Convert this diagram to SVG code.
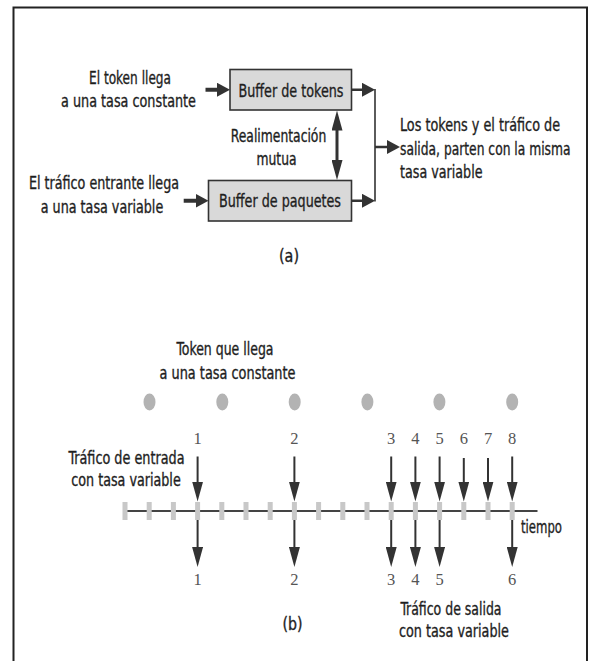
<svg xmlns="http://www.w3.org/2000/svg" width="589" height="661" viewBox="0 0 589 661">
<style>
.t{font-family:"Liberation Sans Narrow","DejaVu Sans Condensed","Arial Narrow",sans-serif;font-size:18px;fill:#1e1e1e;stroke:#1e1e1e;stroke-width:0.35;}
.m{text-anchor:middle;}
.n{font-family:"Liberation Serif","Times New Roman",serif;font-size:16.5px;fill:#555;text-anchor:middle;}
.box{fill:#d9d9d9;stroke:#333;stroke-width:1.6;}
.thick{stroke:#333;stroke-width:4;fill:none;}
.mid{stroke:#333;stroke-width:2.5;fill:none;}
.thin{stroke:#333;stroke-width:1.6;fill:none;}
.arr{stroke:#333;stroke-width:2;fill:none;}
.tick{fill:#c8c8c8;}
.dot{fill:#b3b3b3;}
</style>
<defs>
<marker id="hA" markerUnits="userSpaceOnUse" markerWidth="13" markerHeight="14" refX="7" refY="7" orient="auto"><path d="M0,0 L13,7 L0,14 z" fill="#333"/></marker>
<marker id="hB" markerUnits="userSpaceOnUse" markerWidth="20" markerHeight="11" refX="10" refY="5.5" orient="auto-start-reverse"><path d="M0,0 L20,5.5 L0,11 z" fill="#333"/></marker>
</defs>
<rect width="589" height="661" fill="#fff"/>
<path d="M13.5,661 V7.5 H587 V661" fill="none" stroke="#222" stroke-width="2"/>

<g id="label-token-in">
<text class="t m" x="130" y="83.5" textLength="82" lengthAdjust="spacingAndGlyphs">El token llega</text>
<text class="t m" x="128.5" y="107" textLength="135" lengthAdjust="spacingAndGlyphs">a una tasa constante</text>
</g>
<g id="buffer-tokens">
<rect class="box" x="230" y="69.5" width="121.5" height="40.5"/>
<text class="t m" x="291" y="96.5" textLength="105" lengthAdjust="spacingAndGlyphs">Buffer de tokens</text>
</g>
<g id="label-feedback">
<text class="t m" x="278.5" y="141.5" textLength="95.5" lengthAdjust="spacingAndGlyphs">Realimentación</text>
<text class="t m" x="276.5" y="165" textLength="40" lengthAdjust="spacingAndGlyphs">mutua</text>
</g>
<g id="label-traffic-in">
<text class="t m" x="104" y="189" textLength="150" lengthAdjust="spacingAndGlyphs">El tráfico entrante llega</text>
<text class="t m" x="102" y="212.5" textLength="122.5" lengthAdjust="spacingAndGlyphs">a una tasa variable</text>
</g>
<g id="buffer-paquetes">
<rect class="box" x="208.5" y="180.5" width="143" height="40.5"/>
<text class="t m" x="280" y="207" textLength="122" lengthAdjust="spacingAndGlyphs">Buffer de paquetes</text>
</g>
<g id="label-out">
<text class="t" x="400" y="131" textLength="160" lengthAdjust="spacingAndGlyphs">Los tokens y el tráfico de</text>
<text class="t" x="400" y="154.5" textLength="170.5" lengthAdjust="spacingAndGlyphs">salida, parten con la misma</text>
<text class="t" x="400" y="178" textLength="82.5" lengthAdjust="spacingAndGlyphs">tasa variable</text>
</g>
<g id="caption-a"><text class="t m" x="289" y="262" textLength="20" lengthAdjust="spacingAndGlyphs">(a)</text></g>

<g id="connectors-a">
<line class="thick" x1="205.5" y1="89.75" x2="224" y2="89.75" marker-end="url(#hA)"/>
<line class="thick" x1="183.7" y1="200.75" x2="202.5" y2="200.75" marker-end="url(#hA)"/>
<line class="mid" x1="351.7" y1="89.75" x2="369" y2="89.75" marker-end="url(#hA)"/>
<line class="mid" x1="351.7" y1="200.75" x2="369" y2="200.75" marker-end="url(#hA)"/>
<line class="thin" x1="375" y1="89" x2="375" y2="201.5"/>
<line class="mid" x1="375" y1="147" x2="394" y2="147" marker-end="url(#hA)"/>
<line class="thick" style="stroke-width:3" x1="337" y1="120.5" x2="337" y2="170" marker-start="url(#hB)" marker-end="url(#hB)"/>
</g>

<g id="label-token-b">
<text class="t m" x="225" y="355" textLength="97" lengthAdjust="spacingAndGlyphs">Token que llega</text>
<text class="t m" x="227.5" y="378.5" textLength="136" lengthAdjust="spacingAndGlyphs">a una tasa constante</text>
</g>
<g id="tokens">
<ellipse class="dot" cx="149.5" cy="402" rx="6" ry="8.5"/>
<ellipse class="dot" cx="222.3" cy="402" rx="6" ry="8.5"/>
<ellipse class="dot" cx="294.7" cy="402" rx="6" ry="8.5"/>
<ellipse class="dot" cx="367.4" cy="402" rx="6" ry="8.5"/>
<ellipse class="dot" cx="439.4" cy="402" rx="6" ry="8.5"/>
<ellipse class="dot" cx="512.2" cy="402" rx="6" ry="8.5"/>
</g>
<g id="numbers-in">
<text class="n" x="197.6" y="443.5">1</text>
<text class="n" x="294.4" y="443.5">2</text>
<text class="n" x="391.2" y="443.5">3</text>
<text class="n" x="415.4" y="443.5">4</text>
<text class="n" x="439.6" y="443.5">5</text>
<text class="n" x="463.8" y="443.5">6</text>
<text class="n" x="488" y="443.5">7</text>
<text class="n" x="512.2" y="443.5">8</text>
</g>
<g id="label-traffic-b">
<text class="t m" x="126.5" y="464" textLength="116" lengthAdjust="spacingAndGlyphs">Tráfico de entrada</text>
<text class="t m" x="126" y="485.5" textLength="109.5" lengthAdjust="spacingAndGlyphs">con tasa variable</text>
</g>
<g id="timeline">
<line x1="125" y1="511" x2="537.5" y2="511" stroke="#444" stroke-width="2"/>
<rect class="tick" x="122.5" y="502" width="5" height="18"/>
<rect class="tick" x="146.7" y="502" width="5" height="18"/>
<rect class="tick" x="170.9" y="502" width="5" height="18"/>
<rect class="tick" x="195.1" y="502" width="5" height="18"/>
<rect class="tick" x="219.3" y="502" width="5" height="18"/>
<rect class="tick" x="243.5" y="502" width="5" height="18"/>
<rect class="tick" x="267.7" y="502" width="5" height="18"/>
<rect class="tick" x="291.9" y="502" width="5" height="18"/>
<rect class="tick" x="316.1" y="502" width="5" height="18"/>
<rect class="tick" x="340.3" y="502" width="5" height="18"/>
<rect class="tick" x="364.5" y="502" width="5" height="18"/>
<rect class="tick" x="388.7" y="502" width="5" height="18"/>
<rect class="tick" x="412.9" y="502" width="5" height="18"/>
<rect class="tick" x="437.1" y="502" width="5" height="18"/>
<rect class="tick" x="461.3" y="502" width="5" height="18"/>
<rect class="tick" x="485.5" y="502" width="5" height="18"/>
<rect class="tick" x="509.7" y="502" width="5" height="18"/>
<text class="t" x="521" y="533" textLength="41" lengthAdjust="spacingAndGlyphs">tiempo</text>
</g>
<g id="connectors-b">
<line class="arr" x1="197.6" y1="456.5" x2="197.6" y2="491.5" marker-end="url(#hB)"/>
<line class="arr" x1="294.4" y1="456.5" x2="294.4" y2="491.5" marker-end="url(#hB)"/>
<line class="arr" x1="391.2" y1="456.5" x2="391.2" y2="491.5" marker-end="url(#hB)"/>
<line class="arr" x1="415.4" y1="456.5" x2="415.4" y2="491.5" marker-end="url(#hB)"/>
<line class="arr" x1="439.6" y1="456.5" x2="439.6" y2="491.5" marker-end="url(#hB)"/>
<line class="arr" x1="463.8" y1="458" x2="463.8" y2="491.5" marker-end="url(#hB)"/>
<line class="arr" x1="488" y1="458" x2="488" y2="491.5" marker-end="url(#hB)"/>
<line class="arr" x1="512.2" y1="456.5" x2="512.2" y2="491.5" marker-end="url(#hB)"/>
<line class="arr" x1="197.6" y1="520" x2="197.6" y2="557" marker-end="url(#hB)"/>
<line class="arr" x1="294.4" y1="520" x2="294.4" y2="557" marker-end="url(#hB)"/>
<line class="arr" x1="391.2" y1="520" x2="391.2" y2="557" marker-end="url(#hB)"/>
<line class="arr" x1="415.4" y1="520" x2="415.4" y2="557" marker-end="url(#hB)"/>
<line class="arr" x1="439.6" y1="520" x2="439.6" y2="557" marker-end="url(#hB)"/>
<line class="arr" x1="512.2" y1="520" x2="512.2" y2="557" marker-end="url(#hB)"/>
</g>
<g id="numbers-out">
<text class="n" x="197.6" y="585">1</text>
<text class="n" x="294.4" y="585">2</text>
<text class="n" x="391.2" y="585">3</text>
<text class="n" x="415.4" y="585">4</text>
<text class="n" x="439.6" y="585">5</text>
<text class="n" x="512.2" y="585">6</text>
</g>
<g id="label-traffic-out">
<text class="t" x="400.5" y="615" textLength="101" lengthAdjust="spacingAndGlyphs">Tráfico de salida</text>
<text class="t" x="399" y="637" textLength="110" lengthAdjust="spacingAndGlyphs">con tasa variable</text>
</g>
<g id="caption-b"><text class="t m" x="292.5" y="630" textLength="20" lengthAdjust="spacingAndGlyphs">(b)</text></g>
</svg>
